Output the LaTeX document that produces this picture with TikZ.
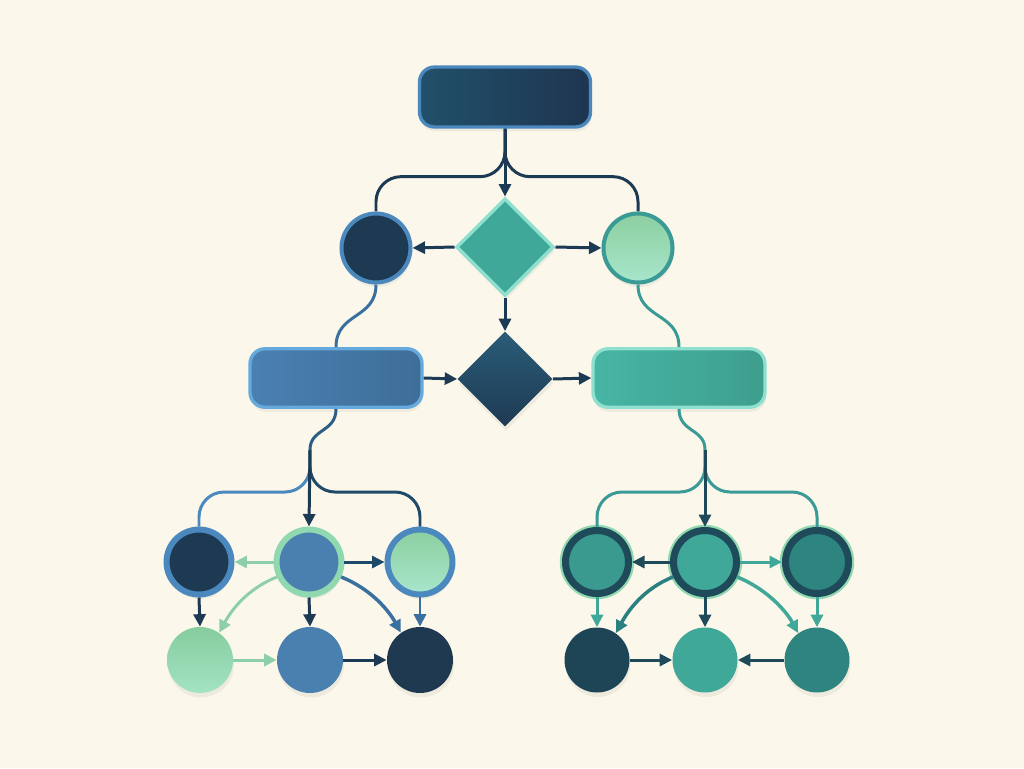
\documentclass[tikz,border=0pt]{standalone}
\usetikzlibrary{shapes,shapes.geometric,arrows.meta,calc,shadows}
\definecolor{cream}{HTML}{FBF7EA}
\definecolor{navy}{HTML}{1E3A52}
\definecolor{navyline}{HTML}{1C3A54}
\definecolor{navyleft}{HTML}{21506A}
\definecolor{navyright}{HTML}{1E3550}
\definecolor{navytop}{HTML}{2A5C78}
\definecolor{ink}{HTML}{1F3A50}
\definecolor{inkblue}{HTML}{1E4A6A}
\definecolor{inkbranch}{HTML}{1F4A68}
\definecolor{trunkblue}{HTML}{2B5F85}
\definecolor{steel}{HTML}{4A80B0}
\definecolor{steelleft}{HTML}{4A80B2}
\definecolor{steelright}{HTML}{3E6E98}
\definecolor{steeledge}{HTML}{4A88BE}
\definecolor{steelline}{HTML}{3A70A0}
\definecolor{skyedge}{HTML}{66A9DC}
\definecolor{sea}{HTML}{3FA898}
\definecolor{sealeft}{HTML}{47B5A5}
\definecolor{searight}{HTML}{3E9E8E}
\definecolor{sealine}{HTML}{3A9A95}
\definecolor{seamid}{HTML}{3A9A90}
\definecolor{seacurve}{HTML}{2A7F80}
\definecolor{seadark}{HTML}{2E8580}
\definecolor{seadeep}{HTML}{1E4A5A}
\definecolor{seaink}{HTML}{1E4555}
\definecolor{minttop}{HTML}{8CCFA0}
\definecolor{mintbottom}{HTML}{A8E6CC}
\definecolor{leaftop}{HTML}{86CC9E}
\definecolor{leafbottom}{HTML}{A3E3C3}
\definecolor{mintedge}{HTML}{8FE0CF}
\definecolor{greenedge}{HTML}{8FD8B0}
\definecolor{greenline}{HTML}{8CCFA8}

\begin{document}
\begin{tikzpicture}[x=0.02cm,y=-0.02cm,
      soft/.style={drop shadow={shadow xshift=0.2mm,shadow yshift=-0.9mm,opacity=0.05,fill=black}},
      box/.style={rectangle, rounded corners=0.3cm, minimum width=3.44cm, minimum height=1.17cm, line width=1.9pt, soft},
      dot/.style={circle, minimum size=1.3cm, inner sep=0pt, soft},
      ring/.style={dot, minimum size=1.26cm, draw=seadeep, line width=4pt, preaction={draw=greenedge, line width=6.5pt}},
      gem/.style={diamond, aspect=1, inner sep=0pt, soft},
      link/.style={line width=1.7pt, navyline},
      arr/.style={link, -{Triangle[length=0.25cm,width=0.24cm]}}]
      \fill[cream] (0,0) rectangle (1024,768);
      \node [box, left color=navyleft, right color=navyright, draw=steeledge, minimum width=3.42cm, minimum height=1.2cm] (t) at (505,97) {};
      \node [gem, fill=sea, draw=mintedge, line width=2pt, minimum size=1.95cm] (d1) at (505,247) {};
      \node [dot, fill=navy, draw=steeledge, line width=2.3pt, minimum size=1.38cm] (l1) at (376,248) {};
      \node [dot, top color=minttop, bottom color=mintbottom, draw=sealine, line width=2.3pt, minimum size=1.38cm] (r1) at (638,248) {};
      \node [box, left color=steelleft, right color=steelright, draw=skyedge] (lr) at (336,378) {};
      \node [gem, top color=navytop, bottom color=navy, minimum size=1.9cm] (d2) at (505,379) {};
      \node [box, left color=sealeft, right color=searight, draw=mintedge] (rr) at (679,378) {};
      \node [dot, fill=navy, draw=steeledge, line width=3.4pt] (a1) at (199,562) {};
      \node [dot, fill=steel, draw=greenedge, line width=3.4pt] (a2) at (309,562) {};
      \node [dot, top color=minttop, bottom color=mintbottom, draw=steeledge, line width=3.4pt] (a3) at (420,562) {};
      \node [dot, top color=leaftop, bottom color=leafbottom, minimum size=1.32cm] (b1) at (200,660) {};
      \node [dot, fill=steel, minimum size=1.32cm] (b2) at (310,660) {};
      \node [dot, fill=ink, minimum size=1.32cm] (b3) at (420,660) {};
      \node [ring, fill=seamid] (c1) at (597,562) {};
      \node [ring, fill=sea] (c2) at (705,562) {};
      \node [ring, fill=seadark] (c3) at (817,562) {};
      \node [dot, fill=seaink] (e1) at (597,660) {};
      \node [dot, fill=sea] (e2) at (705,660) {};
      \node [dot, fill=seadark] (e3) at (817,660) {};
      \coordinate (lj) at (310,450);
      \coordinate (rj) at (705,450);
      \draw [link, rounded corners=0.5cm] (t.south) -- ++(0,48) -| (l1.north);
      \draw [link, rounded corners=0.5cm] (t.south) -- ++(0,48) -| (r1.north);
      \draw [arr] (t.south) -- (d1.north);
      \draw [arr] (d1.west) -- (l1.east);
      \draw [arr] (d1.east) -- (r1.west);
      \draw [arr] (d1.south) -- (d2.north);
      \draw [link, steelline] (l1.south) .. controls +(0,35) and +(0,-35) .. (lr.north);
      \draw [link, sealine] (r1.south) .. controls +(0,35) and +(0,-35) .. (rr.north);
      \draw [arr] (lr.east) -- (d2.west);
      \draw [arr] (d2.east) -- (rr.west);
      \draw [link, trunkblue] (lr.south) .. controls +(0,24) and +(0,-22) .. (lj);
      \draw [link, steeledge, rounded corners=0.5cm] (lj) -- ++(0,42) -| (a1.north);
      \draw [link, inkbranch, rounded corners=0.5cm] (lj) -- ++(0,42) -| (a3.north);
      \draw [arr] (lj) -- (a2.north);
      \draw [arr, greenline] (a2.west) -- (a1.east);
      \draw [arr, inkblue] (a2.east) -- (a3.west);
      \draw [arr] (a1.south) -- (b1.north);
      \draw [arr] (a2.south) -- (b2.north);
      \draw [arr, steelline] (a3.south) -- (b3.north);
      \draw [arr, greenline] (a2.205) .. controls +(-30,12) and +(12,-22) .. (b1.55);
      \draw [arr, steelline, line width=2pt] (a2.-25) .. controls +(30,12) and +(-12,-22) .. (b3.125);
      \draw [arr, greenline] (b1.east) -- (b2.west);
      \draw [arr] (b2.east) -- (b3.west);
      \draw [link, sealine] (rr.south) .. controls +(0,24) and +(0,-22) .. (rj);
      \draw [link, sealine, rounded corners=0.5cm] (rj) -- ++(0,42) -| (c1.north);
      \draw [link, sealine, rounded corners=0.5cm] (rj) -- ++(0,42) -| (c3.north);
      \draw [arr, seadeep] (rj) -- (c2.north);
      \draw [arr, seadeep] (c2.west) -- (c1.east);
      \draw [arr, sea] (c2.east) -- (c3.west);
      \draw [arr, sea] (c1.south) -- (e1.north);
      \draw [arr, seadeep] (c2.south) -- (e2.north);
      \draw [arr, sea] (c3.south) -- (e3.north);
      \draw [arr, seacurve, line width=2pt] (c2.205) .. controls +(-30,12) and +(12,-22) .. (e1.55);
      \draw [arr, sea, line width=2pt] (c2.-25) .. controls +(30,12) and +(-12,-22) .. (e3.125);
      \draw [arr, seadeep] (e1.east) -- (e2.west);
      \draw [arr, seadeep] (e3.west) -- (e2.east);
\end{tikzpicture}
\end{document}
